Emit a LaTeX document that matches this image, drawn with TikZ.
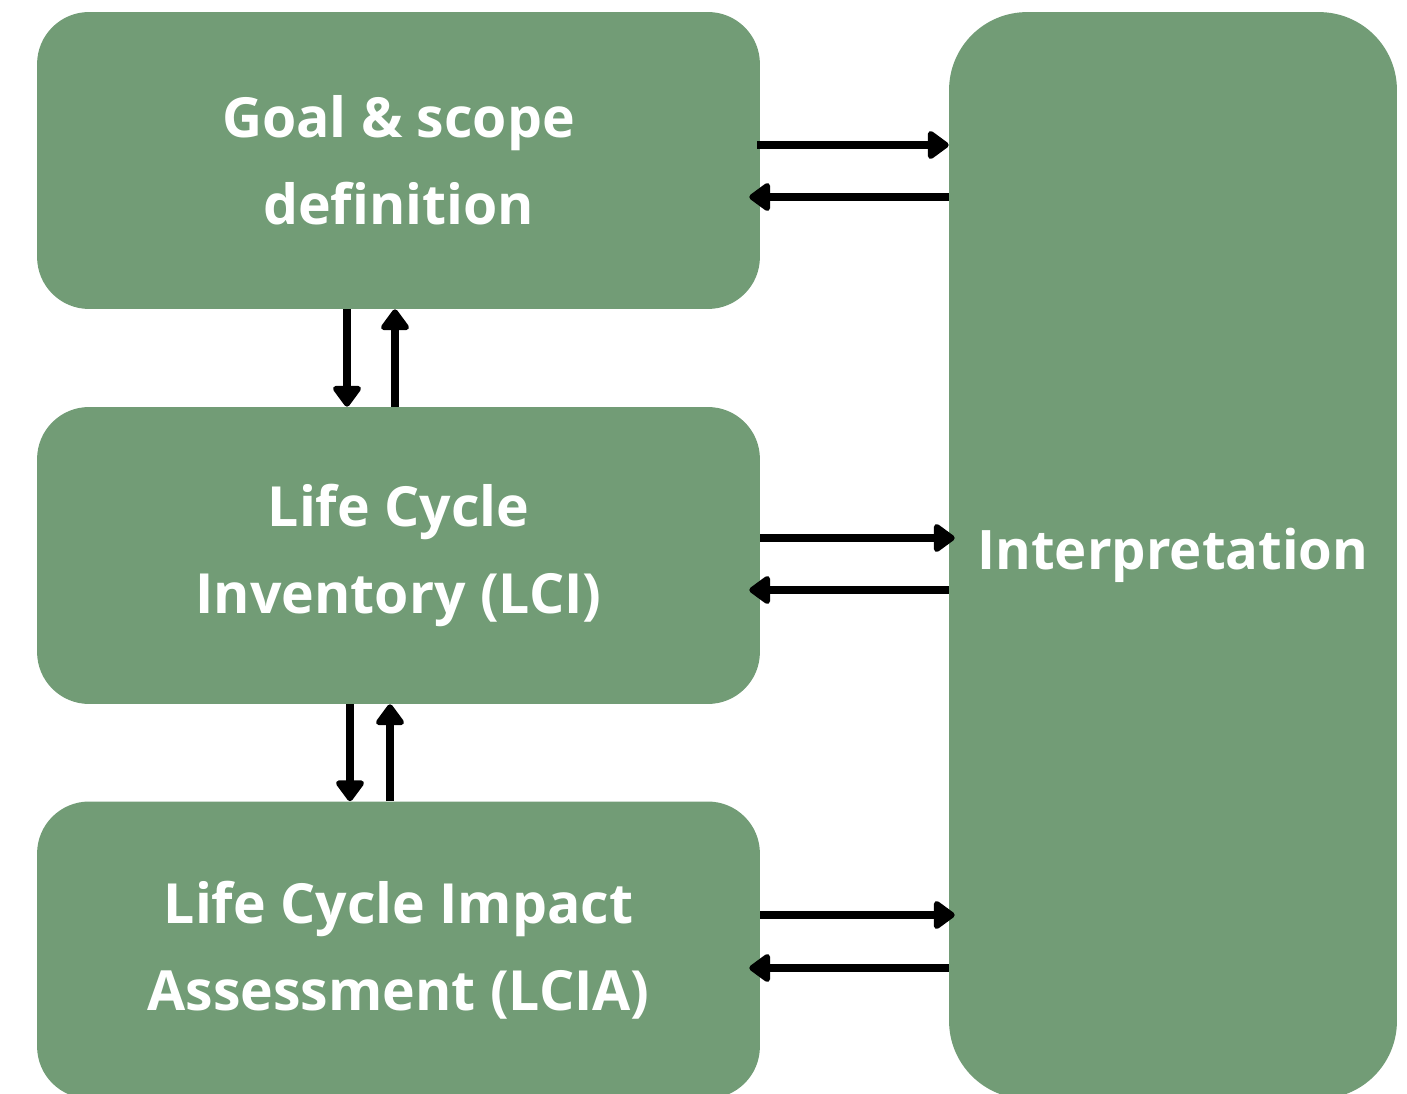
\documentclass[tikz,border=0pt]{standalone}
\usepackage{fontspec}
\setmainfont{Open Sans}[Ligatures={NoCommon}]
\usetikzlibrary{arrows.meta}
\definecolor{boxgreen}{RGB}{114,156,118}
\begin{document}
\begin{tikzpicture}[x=0.02cm,y=-0.02cm,
  phase/.style={fill=boxgreen, draw=none, rounded corners=1.04cm,
    minimum width=14.46cm, minimum height=5.94cm, inner sep=0pt,
    text=white, align=center,
    font=\fontsize{31.5}{49.5}\selectfont\bfseries},
  interp/.style={fill=boxgreen, draw=none, rounded corners=1.56cm,
    minimum width=8.96cm, minimum height=21.74cm, inner sep=0pt,
    text=white, font=\fontsize{31}{49.5}\selectfont\bfseries},
  flow/.style={line width=0.15cm, black,
    -{Triangle[round, width=0.64cm, length=0.46cm]}}]
  \useasboundingbox (0,0) rectangle (1407,1094);
  \clip (0,0) rectangle (1407,1094);

  % the four LCA phases
  \node[phase] (goal) at (398.5,160.5) {Goal \& scope\\definition};
  \node[phase] (lci)  at (398.5,555.5) {Life Cycle\\Inventory (LCI)};
  \node[phase] (lcia) at (398.5,950)   {Life Cycle Impact\\Assessment (LCIA)};
  \node[interp] (ip)  at (1173,555.5)  {Interpretation};

  % exchanges with the interpretation phase
  \draw[flow] ([xshift=-0.06cm]goal.east |- 0,145) -- (ip.west |- 0,145);
  \draw[flow] (ip.west |- 0,197) -- ([xshift=-0.22cm]goal.east |- 0,197);
  \draw[flow] (lci.east |- 0,538) -- ([xshift=0.12cm]ip.west |- 0,538);
  \draw[flow] (ip.west |- 0,590) -- ([xshift=-0.22cm]lci.east |- 0,590);
  \draw[flow] (lcia.east |- 0,915) -- ([xshift=0.12cm]ip.west |- 0,915);
  \draw[flow] (ip.west |- 0,968) -- ([xshift=-0.22cm]lcia.east |- 0,968);

  % iteration between consecutive phases
  \draw[flow] (goal.south -| 347,0) -- (lci.north -| 347,0);
  \draw[flow] (lci.north -| 395,0) -- (goal.south -| 395,0);
  \draw[flow] (lci.south -| 350,0) -- (lcia.north -| 350,0);
  \draw[flow] (lcia.north -| 390,0) -- (lci.south -| 390,0);
\end{tikzpicture}
\end{document}
